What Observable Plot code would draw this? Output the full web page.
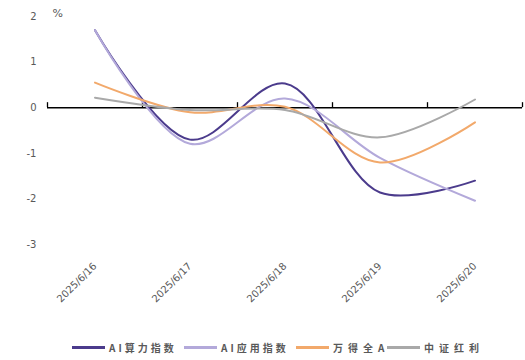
<!DOCTYPE html>
<html>
<head>
<meta charset="utf-8">
<script src="https://cdn.jsdelivr.net/npm/d3@7"></script>
<script src="https://cdn.jsdelivr.net/npm/@observablehq/plot@0.6"></script>
<style>
  body { margin: 0; background: #fff; width: 525px; height: 360px; overflow: hidden; }
  #legend { display: flex; align-items: center; height: 14px; margin-left: 72px;
    font-family: "Noto Sans CJK SC", "DejaVu Sans", sans-serif; font-size: 10px; font-weight: bold;
    color: #595959; }
  #legend .sw { width: 33px; height: 3px; margin-right: 4px; flex: none; }
  #legend .it { display: flex; align-items: center; white-space: nowrap; }
</style>
</head>
<body>
<div id="chart"></div>
<div id="legend"></div>
<script>
const dates = ["2025/6/16", "2025/6/17", "2025/6/18", "2025/6/19", "2025/6/20"];
const seriesNames = ["AI算力指数", "AI应用指数", "万得全A", "中证红利"];
const aiCompute = [1.70, -0.70, 0.53, -1.86, -1.60];
const aiApp = [1.70, -0.79, 0.20, -1.10, -2.04];
const windA = [0.55, -0.10, 0.02, -1.20, -0.32];
const csiDividend = [0.22, -0.05, -0.05, -0.65, 0.18];
const yTicks = [-3, -2, -1, 0, 1, 2];
const colors = ["#4b3b8c", "#b3a9da", "#f2a96b", "#a9a9a9"];

const seriesValues = [aiCompute, aiApp, windA, csiDividend];
const rows = [];
seriesValues.forEach((vals, s) => vals.forEach((v, i) => rows.push({ s: seriesNames[s], i, v })));
const bounds = d3.range(dates.length + 1).map(k => k - 0.5);

const plot = Plot.plot({
  width: 525,
  height: 340,
  marginLeft: 47,
  marginRight: 3,
  marginTop: 16,
  marginBottom: 96,
  style: { fontFamily: "DejaVu Sans, sans-serif", fontSize: "10px", color: "#595959", background: "#fff" },
  x: { type: "linear", domain: [-0.5, dates.length - 0.5] },
  y: { domain: [-3, 2] },
  color: { domain: seriesNames, range: colors },
  marks: [
    Plot.axisY({ ticks: yTicks, tickFormat: d => String(d), tickSize: 0, tickPadding: 11, label: null, fill: "#595959" }),
    Plot.axisX({ ticks: d3.range(dates.length), tickFormat: i => dates[i], tickRotate: -45, tickSize: 0,
      tickPadding: 20, label: null, fill: "#595959", style: { letterSpacing: "2.3px" } }),
    Plot.text(["%"], { frameAnchor: "top-left", dx: 5, dy: -3, textAnchor: "start", lineAnchor: "middle",
      fontSize: 11, fill: "#595959" }),
    Plot.ruleY([0], { stroke: "#000", strokeWidth: 1.5 }),
    Plot.ruleX(bounds, { y1: 0, y2: 0.11, stroke: "#000", strokeWidth: 1.3 }),
    Plot.line(rows, { x: "i", y: "v", z: "s", stroke: "s", strokeWidth: 2, curve: "catmull-rom" })
  ]
});
document.getElementById("chart").appendChild(plot);

const itemWidths = [112, 112, 91, 100];
const spacing = ["3px", "3px", "5px", "5px"];
const legend = document.getElementById("legend");
seriesNames.forEach((n, k) => {
  const it = document.createElement("div");
  it.className = "it";
  it.style.width = itemWidths[k] + "px";
  const sw = document.createElement("div");
  sw.className = "sw";
  sw.style.background = colors[k];
  const t = document.createElement("span");
  t.textContent = n;
  t.style.letterSpacing = spacing[k];
  it.appendChild(sw);
  it.appendChild(t);
  legend.appendChild(it);
});
</script>
</body>
</html>
